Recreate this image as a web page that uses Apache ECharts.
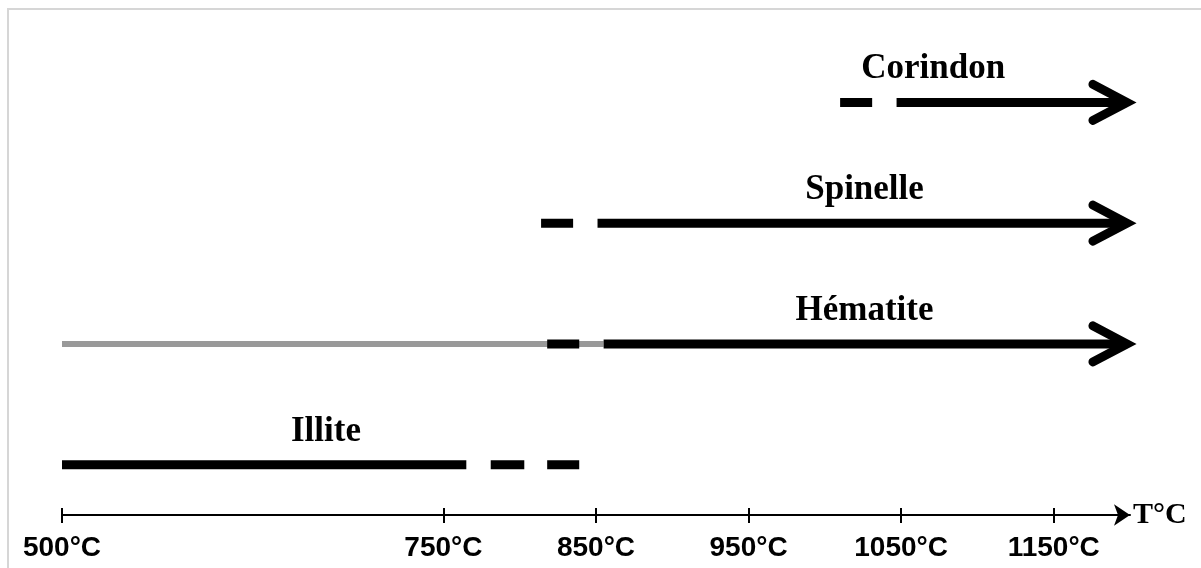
<!DOCTYPE html>
<html>
<head>
<meta charset="utf-8">
<script src="https://cdn.jsdelivr.net/npm/echarts@6/dist/echarts.min.js"></script>
<style>
  html, body { margin: 0; padding: 0; background: #fff; }
  #main { width: 1201px; height: 568px; }
</style>
</head>
<body>
<div id="main"></div>
<script>
// phases, bottom to top
var phases = ['Illite', 'Hématite', 'Spinelle', 'Corindon'];
// temperature where each phase name is centred
var labelTemps = [673, 1026, 1026, 1071];
// tick values on the temperature axis
var tempTicks = [500, 750, 850, 950, 1050, 1150];
// [start °C, end °C, phase] - grey = faint presence
var greyRanges = [
    [500, 855, 'Hématite']
];
// [start °C, end °C, phase] - black = phase present (short ones are the dashes)
var blackRanges = [
    [500, 765, 'Illite'],
    [781, 803, 'Illite'],
    [818, 839, 'Illite'],
    [818, 839, 'Hématite'],
    [855, 1198, 'Hématite'],
    [814, 835, 'Spinelle'],
    [851, 1198, 'Spinelle'],
    [1010, 1031, 'Corindon'],
    [1047, 1198, 'Corindon']
];
// [°C, phase] - phase still present beyond the plotted range
var arrowEnds = [
    [1198, 'Hématite'],
    [1198, 'Spinelle'],
    [1198, 'Corindon']
];

var chart = echarts.init(document.getElementById('main'));

function segmentItem(width, color) {
    return function(params, api) {
        var p0 = api.coord([api.value(0), api.value(2)]);
        var p1 = api.coord([api.value(1), api.value(2)]);
        return {
            type: 'line',
            shape: { x1: p0[0], y1: p0[1], x2: p1[0], y2: p1[1] },
            style: { stroke: color, lineWidth: width, lineCap: 'butt' }
        };
    };
}

var option = {
    backgroundColor: '#fff',
    animation: false,
    graphic: [{
        type: 'rect',
        shape: { x: 8, y: 9, width: 1300, height: 700 },
        style: { fill: 'none', stroke: '#d6d6d6', lineWidth: 2 },
        silent: true
    }],
    grid: { left: 62, right: 71, top: 42, bottom: 43 },
    xAxis: [{
        type: 'value',
        position: 'bottom',
        min: 500,
        max: 1200,
        offset: -10,
        splitLine: { show: false },
        axisLine: {
            show: true,
            symbol: ['none', 'arrow'],
            symbolSize: [16, 16],
            lineStyle: { color: '#000', width: 2 }
        },
        axisTick: { show: true, inside: true, length: 7, customValues: tempTicks, lineStyle: { color: '#000', width: 2 } },
        axisLabel: { show: false },
        name: 'T°C',
        nameLocation: 'end',
        nameGap: 3,
        nameTextStyle: {
            fontFamily: 'Liberation Serif', fontSize: 30, fontWeight: 'bold', color: '#000',
            align: 'left', verticalAlign: 'middle'
        }
    }, {
        type: 'value',
        position: 'bottom',
        min: 500,
        max: 1200,
        offset: -10,
        splitLine: { show: false },
        axisLine: { show: false },
        axisTick: { show: true, inside: false, length: 8, customValues: tempTicks, lineStyle: { color: '#000', width: 2 } },
        axisLabel: {
            show: true,
            customValues: tempTicks,
            margin: 19,
            fontFamily: 'Liberation Sans', fontSize: 28, fontWeight: 'bold', color: '#000',
            formatter: function(v) { return v + '°C'; }
        }
    }],
    yAxis: {
        type: 'category',
        data: phases,
        show: false
    },
    series: [{
        type: 'custom',
        name: 'grey',
        xAxisIndex: 0,
        dimensions: ['from', 'to', 'phase'],
        encode: { x: [0, 1], y: 2 },
        renderItem: segmentItem(6, '#999'),
        data: greyRanges,
        z: 2
    }, {
        type: 'custom',
        name: 'black',
        xAxisIndex: 0,
        dimensions: ['from', 'to', 'phase'],
        encode: { x: [0, 1], y: 2 },
        renderItem: segmentItem(9, '#000'),
        data: blackRanges,
        z: 3
    }, {
        type: 'custom',
        name: 'arrows',
        xAxisIndex: 0,
        encode: { x: 0, y: 1 },
        renderItem: function(params, api) {
            var tip = api.coord([api.value(0), api.value(1)]);
            return {
                type: 'polyline',
                shape: { points: [[tip[0] - 34, tip[1] - 18], [tip[0], tip[1]], [tip[0] - 34, tip[1] + 18]] },
                style: { fill: 'none', stroke: '#000', lineWidth: 9, lineCap: 'round', lineJoin: 'miter' }
            };
        },
        data: arrowEnds,
        z: 4
    }, {
        type: 'scatter',
        name: 'names',
        xAxisIndex: 0,
        symbolSize: 0,
        itemStyle: { opacity: 1 },
        label: {
            show: true,
            position: 'inside',
            offset: [0, -33],
            formatter: function(p) { return p.value[1]; },
            fontFamily: 'Liberation Serif', fontSize: 35, fontWeight: 'bold', color: '#000'
        },
        data: labelTemps.map(function(t, i) { return [t, phases[i]]; }),
        z: 5
    }]
};
chart.setOption(option);
</script>
</body>
</html>
